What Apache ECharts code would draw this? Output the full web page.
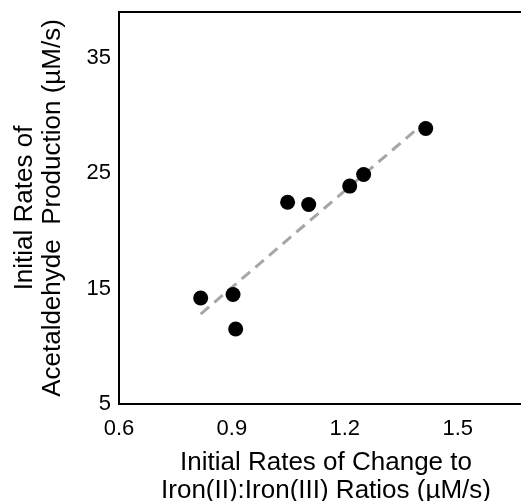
<!DOCTYPE html>
<html><head><meta charset="utf-8">
<script src="https://cdn.jsdelivr.net/npm/echarts@6/dist/echarts.min.js"></script>
<style>html,body{margin:0;padding:0;background:#fff}#c{width:521px;height:501px}</style>
</head><body><div id="c"></div>
<script>
const xValues = [0.817, 0.903, 0.910, 1.048, 1.104, 1.213, 1.250, 1.415];
const yValues = [14.2, 14.5, 11.5, 22.5, 22.3, 23.9, 24.9, 28.9];
const trendX = [0.817, 1.415];
const trendY = [12.8, 29.5];
const xTitle = 'Initial Rates of Change to\nIron(II):Iron(III) Ratios (µM/s)';
const yTitle = 'Initial Rates of\nAcetaldehyde  Production (µM/s)';

const font = '"Liberation Sans", Arial, Helvetica, sans-serif';
const chart = echarts.init(document.getElementById('c'), null, {renderer: 'canvas'});
chart.setOption({
  animation: false,
  grid: {left: 119, right: -12, top: 12, bottom: 97, containLabel: false, outerBoundsMode: 'none',
    show: true, borderColor: '#000', borderWidth: 2, backgroundColor: 'transparent'},
  xAxis: {
    type: 'value', min: 0.6, max: 1.7, interval: 0.3,
    axisLine: {show: true, lineStyle: {color: '#000', width: 2}},
    axisTick: {show: false}, splitLine: {show: false},
    axisLabel: {color: '#000', fontSize: 22, fontFamily: font, margin: 14,
      formatter: v => v.toFixed(1), showMaxLabel: false},
    name: xTitle, nameLocation: 'middle', nameGap: 45,
    nameTextStyle: {color: '#000', fontSize: 26, fontFamily: font, lineHeight: 28}
  },
  yAxis: {
    type: 'value', min: 5, max: 39, interval: 10,
    axisLine: {show: true, lineStyle: {color: '#000', width: 2}},
    axisTick: {show: false}, splitLine: {show: false},
    axisLabel: {color: '#000', fontSize: 22, fontFamily: font, margin: 8, showMaxLabel: false},
    name: yTitle, nameLocation: 'middle', nameGap: 52,
    nameTextStyle: {color: '#000', fontSize: 26, fontFamily: font, lineHeight: 28}
  },
  series: [
    {
      type: 'line', data: trendX.map((x, i) => [x, trendY[i]]), symbol: 'none',
      lineStyle: {color: '#A6A6A6', width: 3, type: [11, 7]}, z: 1
    },
    {
      type: 'scatter', data: xValues.map((x, i) => [x, yValues[i]]),
      symbol: 'circle', symbolSize: 15, itemStyle: {color: '#000', opacity: 1}, z: 2
    }
  ]
});
</script></body></html>
